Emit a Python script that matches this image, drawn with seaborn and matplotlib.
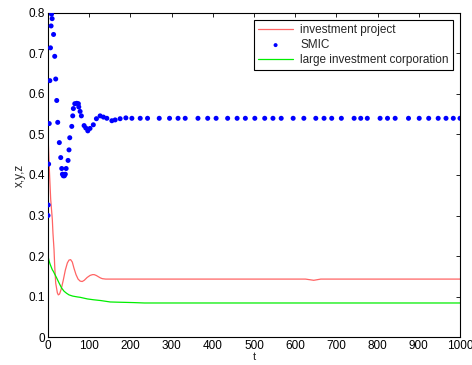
import numpy as np
import pandas as pd
import matplotlib
matplotlib.use("Agg")
import matplotlib.pyplot as plt
import seaborn as sns

# investment project (red line)
t_x = [0, 3, 6.5, 10.5, 12, 14.6, 16.3, 18.7, 22.7, 25, 28, 32, 37, 42, 47, 51, 55, 59, 63,
       68, 73, 78, 83, 88, 95, 102, 108, 112, 117, 122, 127, 132, 140, 200, 300, 400, 500,
       600, 625, 645, 662, 700, 800, 900, 1000]
x_val = [0.5, 0.42, 0.34, 0.29, 0.257, 0.216, 0.174, 0.133, 0.109, 0.104, 0.106, 0.118, 0.14,
         0.165, 0.183, 0.19, 0.191, 0.185, 0.17, 0.154, 0.143, 0.138, 0.137, 0.140, 0.147,
         0.152, 0.154, 0.154, 0.152, 0.149, 0.146, 0.144, 0.143, 0.143, 0.143, 0.143, 0.143,
         0.143, 0.143, 0.140, 0.143, 0.143, 0.143, 0.143, 0.143]

# SMIC (blue dots)
t_y = [0, 0.5, 1.5, 3, 4.5, 6, 7.5, 8.5, 10, 13.5, 16.3, 18.7, 21.2, 23.6, 27.5, 30.9, 33.3,
       35, 37.2, 39.7, 42, 44, 48.7, 51, 52.8, 57.7, 60, 61.6, 65, 69.8, 73.7, 74.7, 77.9, 81,
       87.6, 91.7, 96.6, 102, 110, 117.5, 126.5, 134.5, 142.8, 155, 163, 175, 189, 203.6,
       223.8, 241.6, 270, 295, 315.6, 333, 364, 387.6, 408, 436, 459, 479, 502, 526, 546,
       566, 595, 621, 650, 670, 688.6, 712, 743, 759, 775, 806, 824, 842.6, 875, 901, 924,
       947, 966, 983.7, 1000]
y_val = [0.300, 0.326, 0.427, 0.527, 0.633, 0.714, 0.768, 0.797, 0.786, 0.747, 0.693, 0.637,
         0.584, 0.530, 0.480, 0.443, 0.416, 0.402, 0.398, 0.398, 0.402, 0.416, 0.436, 0.462,
         0.492, 0.520, 0.546, 0.564, 0.576, 0.577, 0.576, 0.568, 0.557, 0.546, 0.522, 0.516,
         0.509, 0.515, 0.524, 0.539, 0.546, 0.543, 0.540, 0.534, 0.536, 0.539, 0.541, 0.540,
         0.540, 0.540, 0.540, 0.540, 0.540, 0.540, 0.540, 0.540, 0.540, 0.540, 0.540, 0.540,
         0.540, 0.540, 0.540, 0.540, 0.540, 0.540, 0.540, 0.540, 0.540, 0.540, 0.540, 0.540,
         0.540, 0.540, 0.540, 0.540, 0.540, 0.540, 0.540, 0.540, 0.540, 0.540, 0.540]

# large investment corporation (green line)
t_z = [0, 2, 5, 10.5, 13, 20, 27, 33, 39, 45, 51, 60, 71, 78, 95.6, 110, 128, 151, 168, 207,
       234, 300, 400, 500, 600, 700, 800, 900, 1000]
z_val = [0.2, 0.19, 0.18, 0.166, 0.162, 0.148, 0.133, 0.121, 0.113, 0.108, 0.104, 0.101,
         0.099, 0.098, 0.094, 0.092, 0.090, 0.0865, 0.086, 0.085, 0.084, 0.084, 0.084, 0.084,
         0.084, 0.084, 0.084, 0.084, 0.084]

labels = ["investment project", "SMIC", "large investment corporation"]
x_ticks = list(range(0, 1001, 100))
y_ticks = [0, 0.1, 0.2, 0.3, 0.4, 0.5, 0.6, 0.7, 0.8]

sns.set_theme(style="white")
plt.rcParams["font.family"] = ["Liberation Sans", "DejaVu Sans"]
plt.rcParams["font.size"] = 8.5

fig = plt.figure(figsize=(4.72, 3.65), dpi=100)
ax = fig.add_axes([0.1017, 0.0767, 0.8729, 0.8877])

dfx = pd.DataFrame({"t": t_x, "v": x_val})
dfy = pd.DataFrame({"t": t_y, "v": y_val})
dfz = pd.DataFrame({"t": t_z, "v": z_val})

sns.lineplot(data=dfx, x="t", y="v", ax=ax, color="#ff3030", linewidth=0.9, alpha=0.75,
             label=labels[0], zorder=2)
sns.scatterplot(data=dfy, x="t", y="v", ax=ax, color="#0000ff", s=13, edgecolor="none",
                label=labels[1], zorder=3)
sns.lineplot(data=dfz, x="t", y="v", ax=ax, color="#00ee00", linewidth=0.9,
             label=labels[2], zorder=2)

ax.set_xlim(0, 1000)
ax.set_ylim(0, 0.8)
ax.set_xticks(x_ticks)
ax.set_yticks(y_ticks)
ax.set_xticklabels([str(v) for v in x_ticks])
ax.set_yticklabels(["0"] + [f"{v:.1f}" for v in y_ticks[1:]])
ax.set_xlabel("t", fontsize=8, labelpad=0)
ax.set_ylabel("x,y,z", fontsize=8.5, labelpad=2)
ax.tick_params(direction="in", length=3, width=0.6, top=True, right=True,
               labelsize=8.5, colors="black", pad=2)
for s in ax.spines.values():
    s.set_edgecolor("black")
    s.set_linewidth(0.8)

leg = ax.legend(loc="upper right", bbox_to_anchor=(0.983, 0.978), borderaxespad=0,
                frameon=True, fancybox=False, handlelength=3.0, handletextpad=0.6,
                labelspacing=0.25, borderpad=0.35, fontsize=8.5, markerscale=0.8)
leg.get_frame().set_edgecolor("black")
leg.get_frame().set_linewidth(0.8)
leg.get_frame().set_alpha(1)

fig.savefig("out.png", dpi=100)
